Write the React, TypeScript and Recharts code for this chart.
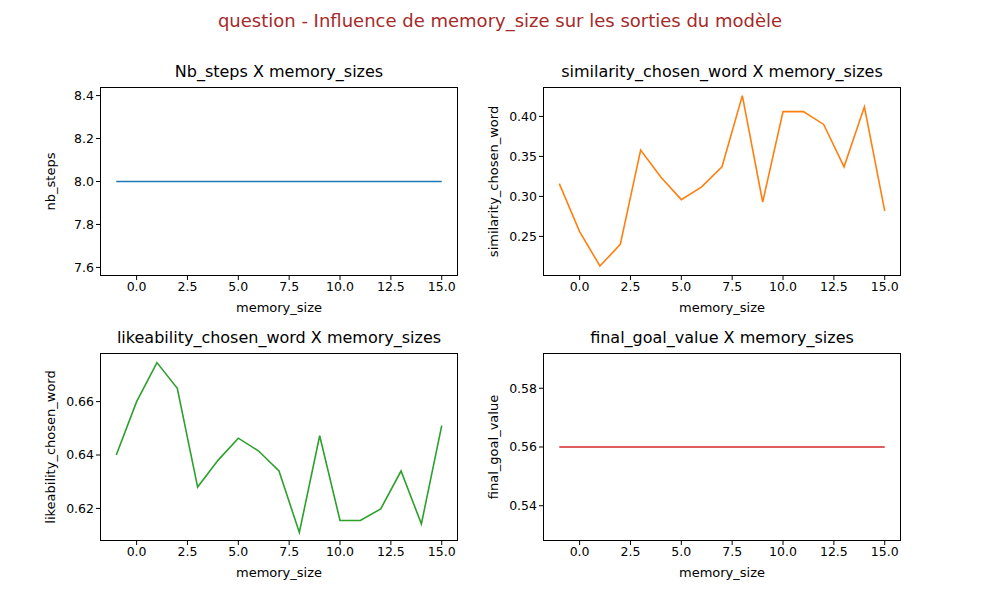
import React from 'react';
import { LineChart, Line, XAxis, YAxis } from 'recharts';

const memorySizes = [-1, 0, 1, 2, 3, 4, 5, 6, 7, 8, 9, 10, 11, 12, 13, 14, 15];
const nbSteps = [8, 8, 8, 8, 8, 8, 8, 8, 8, 8, 8, 8, 8, 8, 8, 8, 8];
const similarity = [0.316, 0.256, 0.213, 0.240, 0.358, 0.324, 0.296, 0.312, 0.337, 0.426, 0.293, 0.406, 0.406, 0.390, 0.337, 0.412, 0.282];
const likeability = [0.640, 0.660, 0.6746, 0.665, 0.628, 0.638, 0.6463, 0.6415, 0.634, 0.611, 0.6472, 0.6155, 0.6155, 0.6198, 0.634, 0.6142, 0.651];
const finalGoal = [0.56, 0.56, 0.56, 0.56, 0.56, 0.56, 0.56, 0.56, 0.56, 0.56, 0.56, 0.56, 0.56, 0.56, 0.56, 0.56, 0.56];
const xTicks = [0, 2.5, 5, 7.5, 10, 12.5, 15];

const rows = memorySizes.map((m, i) => ({
  memory_size: m,
  nb_steps: nbSteps[i],
  similarity_chosen_word: similarity[i],
  likeability_chosen_word: likeability[i],
  final_goal_value: finalGoal[i],
}));

const FONT = 'DejaVu Sans, sans-serif';

function Panel(props: any) {
  const { left, top, w, h, dataKey, yDomain, yTicks, digits, color, title } = props;
  return (
    <div style={{ position: 'absolute', left: left - 100, top: top - 30 }}>
      <div style={{ position: 'absolute', left: 100, top: 5, width: w, textAlign: 'center', fontSize: 16, fontFamily: FONT, color: '#000' }}>{title}</div>
      <LineChart width={w + 110} height={h + 80} data={rows} margin={{ top: 30, right: 10, left: 0, bottom: 0 }}>
        <XAxis
          dataKey="memory_size" type="number" domain={[-1.8, 15.8]} ticks={xTicks}
          tickFormatter={(v) => v.toFixed(1)} axisLine={false}
          tickLine={{ stroke: '#000' }} tickSize={4}
          tick={{ fill: '#000', fontSize: 12.5, fontFamily: FONT }} height={50}
          label={{ value: 'memory_size', position: 'insideBottom', offset: 14, fill: '#000', fontSize: 13, fontFamily: FONT }}
        />
        <YAxis
          type="number" domain={yDomain} ticks={yTicks} allowDataOverflow
          tickFormatter={(v) => v.toFixed(digits)} axisLine={false}
          tickLine={{ stroke: '#000' }} tickSize={4}
          tick={{ fill: '#000', fontSize: 12.5, fontFamily: FONT }} width={100}
          label={{ value: dataKey, angle: -90, position: 'insideRight', offset: 50, fill: '#000', fontSize: 13, fontFamily: FONT, style: { textAnchor: 'middle' } }}
        />
        <Line type="linear" dataKey={dataKey} stroke={color} strokeWidth={1.6} dot={false} isAnimationActive={false} />
      </LineChart>
      <div style={{ position: 'absolute', left: 100, top: 30, width: w, height: h, border: '1px solid #000', boxSizing: 'border-box', pointerEvents: 'none' }} />
    </div>
  );
}

export default function App() {
  return (
    <div style={{ position: 'absolute', left: 0, top: 0, width: 1000, height: 600, background: '#fff', fontFamily: FONT }}>
      <div style={{ position: 'absolute', top: 10, width: 1000, textAlign: 'center', fontSize: 18, color: '#a52a2a' }}>
        question - Influence de memory_size sur les sorties du modèle
      </div>
      <Panel left={100} top={87} w={358} h={189} dataKey="nb_steps" yDomain={[7.56, 8.44]} yTicks={[7.6, 7.8, 8.0, 8.2, 8.4]} digits={1} color="#1f77b4" title="Nb_steps X memory_sizes" />
      <Panel left={543} top={87} w={358} h={189} dataKey="similarity_chosen_word" yDomain={[0.2005, 0.4368]} yTicks={[0.25, 0.30, 0.35, 0.40]} digits={2} color="#ff7f0e" title="similarity_chosen_word X memory_sizes" />
      <Panel left={100} top={353} w={358} h={188} dataKey="likeability_chosen_word" yDomain={[0.6078, 0.6782]} yTicks={[0.62, 0.64, 0.66]} digits={2} color="#2ca02c" title="likeability_chosen_word X memory_sizes" />
      <Panel left={543} top={353} w={358} h={188} dataKey="final_goal_value" yDomain={[0.528, 0.592]} yTicks={[0.54, 0.56, 0.58]} digits={2} color="#d62728" title="final_goal_value X memory_sizes" />
    </div>
  );
}
